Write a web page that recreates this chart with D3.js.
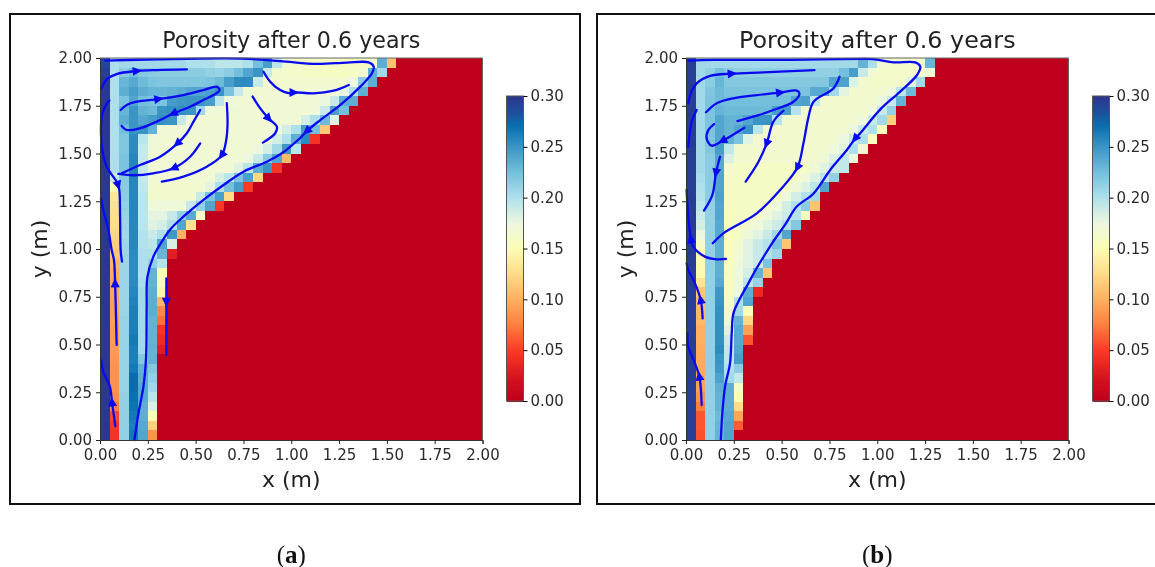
<!DOCTYPE html>
<html>
<head>
<meta charset="utf-8">
<script src="https://cdn.jsdelivr.net/npm/d3@7"></script>
<style>
body { margin: 0; background: #fff; }
svg { display: block; filter: blur(0.35px); }
text { font-family: "DejaVu Sans", sans-serif; fill: #222; }
</style>
</head>
<body>
<div id="chart"></div>
<script>
// porosity x 1000, one row per 0.05 m from y = 2.00 down, columns from x = 0. cells past the row end are 0
const porosityA = [
[290,200,205,205,205,205,205,205,205,200,200,200,195,195,195,200,225,245,195,165,160,160,158,158,158,158,158,158,160,235,110],
[295,200,215,225,218,215,215,215,215,215,215,212,210,215,225,240,250,190,165,162,162,160,160,158,158,158,160,165,235,205],
[298,200,230,238,228,222,220,220,220,220,220,222,228,245,255,255,190,165,165,165,165,165,165,165,165,165,175,215,235],
[298,200,235,245,235,230,230,232,235,240,240,242,250,222,190,170,165,168,168,168,168,168,168,168,170,178,200,235],
[298,200,222,240,225,222,222,245,248,250,250,245,195,172,168,168,168,168,168,168,168,168,168,175,190,235,235],
[298,200,230,250,232,228,250,252,252,250,205,172,170,170,170,168,168,168,168,168,168,168,172,190,243,225],
[298,200,235,250,240,245,252,250,190,168,168,168,168,168,168,168,168,168,168,168,168,185,200,228,180],
[298,200,225,250,250,232,170,168,168,168,168,168,168,168,168,168,168,168,172,185,200,245,225,115],
[298,200,220,255,195,170,168,168,168,168,168,168,168,168,168,168,168,172,185,200,235,255,45],
[298,200,220,255,190,170,168,168,168,168,168,168,168,168,168,168,175,185,205,248,195],
[298,200,222,258,190,168,168,168,168,168,168,168,168,168,168,175,190,215,240,105],
[298,200,222,258,190,168,168,168,168,168,168,168,168,168,180,195,235,250,45],
[298,190,218,258,190,168,168,168,168,168,168,168,183,195,222,243,122],
[298,150,215,258,192,165,165,165,165,165,165,178,200,225,245,50],
[298,135,215,258,195,165,165,165,165,165,190,222,243,125],
[298,130,212,258,195,172,172,172,172,190,212,240,48],
[298,128,210,258,195,178,178,190,212,237,160],
[298,125,208,258,195,180,185,200,240,130],
[298,122,205,258,198,190,200,248,100],
[298,118,208,258,198,195,240,183],
[298,112,208,255,200,200,230,30],
[298,105,208,255,200,212,198],
[298,100,208,255,200,232,150],
[298,95,208,255,202,232,155],
[298,95,208,258,205,235,145],
[298,93,208,260,205,235,105],
[298,92,208,262,205,235,80],
[298,92,210,262,205,232,70],
[298,90,210,262,205,232,45],
[298,90,210,265,205,232,40],
[298,90,210,262,205,232,30],
[298,88,210,262,218,232],
[298,85,210,265,232,218],
[298,85,210,272,235,212],
[298,85,210,272,238,205],
[298,82,212,270,238,195],
[298,75,212,268,235,182],
[298,55,212,265,235,152],
[298,48,212,262,238,118],
[298,45,212,265,240,85]
];

const porosityB = [
[295,205,205,205,205,205,205,205,205,205,205,205,205,205,205,205,205,205,232,200,168,162,162,162,165,230],
[295,205,212,225,215,212,212,212,212,212,212,212,212,212,212,212,225,245,190,168,162,162,162,162,165,170],
[295,205,215,230,218,218,218,218,218,218,218,218,218,218,218,240,242,182,165,163,163,163,163,180,205],
[295,205,220,228,222,222,222,222,222,222,222,222,222,238,238,205,178,165,165,165,165,172,195,228],
[295,205,222,228,225,225,225,225,225,225,225,240,242,192,165,165,165,165,165,165,175,190,232],
[295,205,222,232,228,228,228,228,228,245,245,198,165,165,165,165,165,165,165,172,190,212],
[295,205,222,240,232,232,240,250,250,198,165,165,165,165,165,165,165,165,172,190,205,118],
[295,205,222,240,232,240,250,195,165,165,165,165,165,165,165,165,165,175,190,200,155],
[295,205,222,240,232,222,180,165,165,165,165,165,165,165,165,165,175,190,200,155],
[295,205,218,245,192,165,165,165,165,165,165,165,165,165,165,172,180,200,165],
[295,205,215,240,182,165,165,165,165,165,165,165,165,165,170,182,192,172],
[295,205,215,238,165,160,160,160,160,160,160,160,160,170,180,190,192],
[295,203,215,240,162,160,160,160,160,160,160,160,172,182,195,212],
[295,200,215,240,160,160,160,160,160,160,160,170,182,195,240],
[295,198,215,242,158,160,160,160,160,160,172,185,198,205],
[295,195,212,240,158,160,160,160,160,172,185,198,215,112],
[295,190,212,240,155,160,160,160,172,180,188,198,158],
[295,185,212,238,155,160,165,172,180,188,200,218],
[295,175,212,238,155,160,170,180,190,205,240],
[295,162,212,235,155,165,180,190,198,222,112],
[295,150,212,235,155,168,180,190,198,208],
[295,150,212,235,155,170,180,190,222],
[295,148,212,235,158,172,185,232,112],
[295,132,212,238,158,172,195,210],
[295,112,212,248,158,175,235,38],
[295,108,212,250,162,200,240],
[295,105,212,252,165,205,155],
[295,105,212,252,170,232,122],
[295,100,212,252,180,238,92],
[295,100,212,252,190,238,60],
[295,98,212,255,192,240],
[295,98,212,250,195,245],
[295,98,212,248,200,215],
[295,95,212,242,205,192],
[295,92,212,235,235,160],
[295,85,212,232,235,150],
[295,75,212,232,235,125],
[295,60,212,228,238,95],
[295,60,212,230,240,62],
[295,58,212,232,240]
];

// streamlines in metres, points run in flow direction
const streamA = [
  [[.005,1.836],[.014,1.853],[.035,1.888],[.087,1.916],[.192,1.932],[.297,1.937],[.454,1.940]],
  [[.049,1.777],[.026,1.745],[.009,1.693],[.005,1.606],[.012,1.518],[.035,1.431],[.087,1.353],[.094,1.335],[.101,1.309],[.105,1.169],[.108,.995],[.115,.934]],
  [[.087,.497],[.079,.820],[.073,.942],[.061,.995],[.044,1.099],[.017,1.204],[.005,1.265]],
  [[.080,.073],[.063,.197],[.052,.279],[.017,.358],[.005,.419]],
  [[.026,1.986],[.297,1.993],[.733,1.997],[.942,1.984],[1.134,1.969],[1.291,1.976],[1.405,1.977],[1.431,1.955],[1.422,1.920],[1.361,1.850],[1.257,1.754],[1.152,1.675],[1.082,1.618],[1.047,1.581],[.995,1.536],[.951,1.501],[.873,1.457],[.750,1.405],[.646,1.335],[.541,1.257],[.436,1.169],[.365,1.100],[.318,1.030],[.279,.960],[.248,.855],[.244,.698],[.241,.436],[.227,.279],[.201,.140],[.180,0]],
  [[.108,1.728],[.140,1.754],[.192,1.771],[.305,1.785],[.436,1.806],[.541,1.832],[.611,1.850],[.625,1.832],[.593,1.806],[.541,1.780],[.471,1.745],[.384,1.710],[.297,1.667],[.209,1.632],[.140,1.623],[.113,1.644]],
  [[.524,1.728],[.489,1.667],[.454,1.606],[.405,1.553],[.314,1.483],[.209,1.440],[.113,1.396]],
  [[.524,1.553],[.471,1.483],[.387,1.424],[.279,1.396],[.175,1.386],[.096,1.393]],
  [[.663,1.763],[.667,1.658],[.660,1.571],[.637,1.492],[.558,1.431],[.436,1.379],[.323,1.353]],
  [[.798,1.798],[.838,1.736],[.881,1.684],[.925,1.640],[.916,1.606],[.852,1.557]],
  [[.855,1.928],[.890,1.876],[.942,1.832],[.995,1.815],[1.012,1.820],[1.117,1.815],[1.222,1.829],[1.301,1.859]],
  [[.347,.846],[.347,.724],[.347,.445]]
];
// [streamline, point] where an arrow head sits
const arrowsA = [[0,4],[1,7],[2,1],[3,1],[4,12],[5,3],[5,11],[6,3],[7,2],[8,3],[9,2],[10,4],[11,1]];

const streamB = [
  [[.012,1.986],[.143,1.990],[.492,1.990],[.946,1.995],[.998,1.992],[1.086,1.977],[1.199,1.977],[1.225,1.955],[1.208,1.911],[1.120,1.824],[1.016,1.731],[.911,1.606],[.885,1.579],[.841,1.518],[.754,1.414],[.667,1.291],[.579,1.222],[.520,1.130],[.450,1.030],[.400,.950],[.361,.885],[.326,.820],[.283,.742],[.248,.663],[.239,.558],[.230,.401],[.204,.279],[.190,.140],[.182,0]],
  [[.209,.948],[.161,.946],[.099,.960],[.038,1.012],[.026,1.051],[.012,1.169],[.003,1.309]],
  [[.012,1.763],[.024,1.815],[.056,1.867],[.126,1.906],[.239,1.918],[.405,1.925],[.672,1.937]],
  [[.056,1.728],[.030,1.667],[.012,1.536]],
  [[.105,1.716],[.161,1.763],[.248,1.789],[.492,1.819],[.579,1.829],[.593,1.815],[.562,1.771],[.457,1.728],[.370,1.698],[.269,1.670]],
  [[.305,1.635],[.192,1.567],[.134,1.541],[.108,1.579],[.117,1.623],[.147,1.654]],
  [[.178,1.483],[.157,1.400],[.138,1.283],[.094,1.201]],
  [[.510,1.724],[.457,1.667],[.422,1.553],[.379,1.457],[.312,1.353]],
  [[.803,1.902],[.771,1.841],[.667,1.771],[.641,1.693],[.614,1.553],[.583,1.428],[.492,1.309],[.370,1.187],[.195,1.082],[.140,1.030]],
  [[.082,.183],[.070,.332],[.047,.401],[.012,.489],[.007,.558]],
  [[.087,.637],[.077,.733],[.047,.820],[.012,.890],[.003,.925]]
];
const arrowsB = [[0,12],[1,4],[2,4],[4,3],[5,1],[6,1],[7,2],[8,5],[9,1],[10,1]];

const tickLabels = [0, 0.25, 0.5, 0.75, 1, 1.25, 1.5, 1.75, 2];
const barTicks = [0, 0.05, 0.1, 0.15, 0.2, 0.25, 0.3];
const colorStops = [0, .02, .05, .075, .1, .125, .15, .175, .2, .225, .25, .27, .285, .3];
const colorValues = ['#bf001c', '#d2101f', '#fb3a26', '#fd8040', '#feaf60', '#fedc88', '#fbfdb4', '#ecf7df', '#aee0ec', '#74bfdc', '#3a94c4', '#0a70b0', '#1f4e9c', '#2c3590'];

const color = d3.scaleLinear().domain(colorStops).range(colorValues);

const svg = d3.select('#chart').append('svg').attr('width', 1155).attr('height', 567);

function panel(left, frame, grid, lines, arrows, titleSize, caption) {
  const x = d3.scaleLinear().domain([0, 2]).range([left, left + 382.5]);
  const y = d3.scaleLinear().domain([0, 2]).range([440, 58]);

  svg.append('rect')
    .attr('x', frame[0]).attr('y', 14).attr('width', frame[1]).attr('height', 490)
    .attr('fill', 'none').attr('stroke', '#111').attr('stroke-width', 2);

  // cells
  const g = svg.append('g').attr('shape-rendering', 'crispEdges');
  d3.range(40).forEach(r => {
    d3.range(40).forEach(c => {
      g.append('rect')
        .attr('x', x(c * 0.05))
        .attr('y', y(2 - r * 0.05))
        .attr('width', x(0.05) - x(0) + 0.5)
        .attr('height', y(0) - y(0.05) + 0.5)
        .attr('fill', color((grid[r][c] || 0) / 1000));
    });
  });

  // streamlines
  const line = d3.line().x(d => x(d[0])).y(d => y(d[1])).curve(d3.curveCatmullRom.alpha(0.5));
  const flow = svg.append('g');
  flow.selectAll('path.stream').data(lines).enter().append('path')
    .attr('class', 'stream')
    .attr('d', line)
    .attr('fill', 'none')
    .attr('stroke', '#0a0af0')
    .attr('stroke-width', 2.3)
    .attr('stroke-linecap', 'round');

  arrows.forEach(a => {
    const pts = lines[a[0]];
    const p = pts[a[1]], p0 = pts[a[1] - 1], p1 = pts[a[1] + 1];
    const ang = Math.atan2(y(p1[1]) - y(p0[1]), x(p1[0]) - x(p0[0])) * 180 / Math.PI;
    flow.append('path')
      .attr('d', 'M5.5,0L-4,-4.5L-4,4.5Z')
      .attr('transform', 'translate(' + x(p[0]) + ',' + y(p[1]) + ') rotate(' + ang + ')')
      .attr('fill', '#0a0af0');
  });

  // axes
  const fmt = d3.format('.2f');
  const ax = svg.append('g').attr('transform', 'translate(0,440)')
    .call(d3.axisBottom(x).tickValues(tickLabels).tickFormat(fmt).tickSize(4).tickPadding(5));
  const ay = svg.append('g').attr('transform', 'translate(' + left + ',0)')
    .call(d3.axisLeft(y).tickValues(tickLabels).tickFormat(fmt).tickSize(4).tickPadding(4));
  [ax, ay].forEach(s => {
    s.selectAll('text').style('font-size', '15px').style('font-family', '"DejaVu Sans"').style('fill', '#2a2a2a');
    s.select('.domain').attr('stroke', '#333');
    s.selectAll('line').attr('stroke', '#222');
  });
  svg.append('path')
    .attr('d', 'M' + x(0) + ',' + y(2) + 'H' + x(2) + 'V' + y(0))
    .attr('fill', 'none').attr('stroke', '#666');

  svg.append('text').attr('x', x(1)).attr('y', 48).attr('text-anchor', 'middle')
    .style('font-size', titleSize + 'px').text('Porosity after 0.6 years');
  svg.append('text').attr('x', x(1)).attr('y', 487).attr('text-anchor', 'middle')
    .style('font-size', '22px').text('x (m)');
  svg.append('text').attr('transform', 'translate(' + (left - 53) + ',249) rotate(-90)')
    .attr('text-anchor', 'middle').style('font-size', '22px').text('y (m)');

  // colour bar
  const barLeft = left + 406.5;
  const bar = d3.scaleLinear().domain([0, 0.3]).range([401, 96]);
  const bg = svg.append('g').attr('shape-rendering', 'crispEdges');
  d3.range(0, 0.3, 0.001).forEach(v => {
    bg.append('rect').attr('x', barLeft).attr('y', bar(v + 0.001))
      .attr('width', 17).attr('height', bar(0) - bar(0.001) + 0.5).attr('fill', color(v));
  });
  svg.append('rect').attr('x', barLeft).attr('y', 96).attr('width', 17).attr('height', 305)
    .attr('fill', 'none').attr('stroke', '#555');
  const ab = svg.append('g').attr('transform', 'translate(' + (barLeft + 17) + ',0)')
    .call(d3.axisRight(bar).tickValues(barTicks).tickFormat(fmt).tickSize(4).tickPadding(3));
  ab.select('.domain').remove();
  ab.selectAll('text').style('font-size', '15px').style('font-family', '"DejaVu Sans"').style('fill', '#2a2a2a');

  // caption
  const cap = svg.append('text').attr('x', x(1)).attr('y', 563).attr('text-anchor', 'middle')
    .style('font-family', '"Liberation Serif"').style('font-size', '25px').style('fill', '#111');
  cap.append('tspan').text('(');
  cap.append('tspan').style('font-weight', 'bold').text(caption);
  cap.append('tspan').text(')');
}

panel(100, [10, 570], porosityA, streamA, arrowsA, 22.2, 'a');
panel(686, [597, 570], porosityB, streamB, arrowsB, 23.8, 'b');
</script>
</body>
</html>
